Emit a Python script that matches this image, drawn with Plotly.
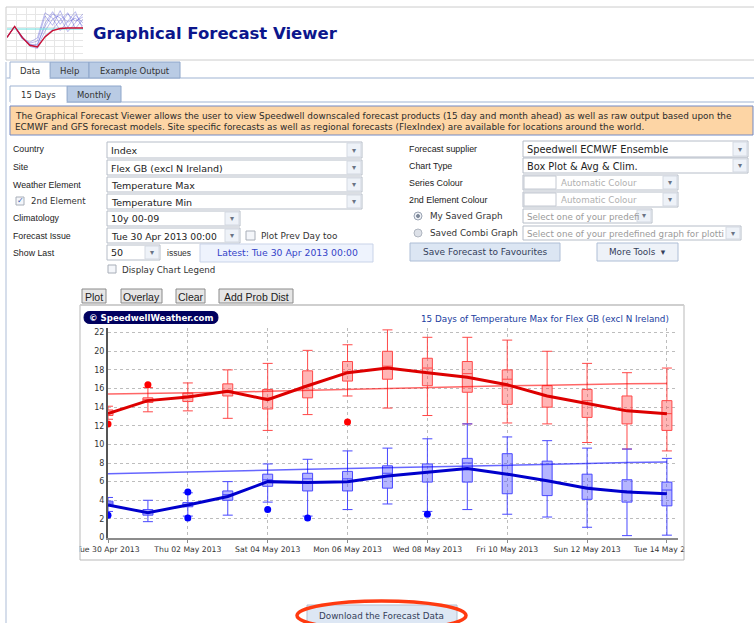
import plotly.graph_objects as go

W, H = 754, 623
SANS = "DejaVu Sans"
ARIAL = "Liberation Sans"

# ---- chart data ----
dates = ["2013-04-30", "2013-05-01", "2013-05-02", "2013-05-03", "2013-05-04",
         "2013-05-05", "2013-05-06", "2013-05-07", "2013-05-08", "2013-05-09",
         "2013-05-10", "2013-05-11", "2013-05-12", "2013-05-13", "2013-05-14"]

tmax_low = [12.7, 13.5, 13.6, 12.8, 11.5, 13.2, 15.2, 13.9, 13.1, 12.2, 12.3, 12.2, 10.2, 9.5, 9.3]
tmax_q1 = [13.1, 14.5, 14.6, 15.2, 13.8, 15.0, 16.8, 17.0, 16.3, 15.6, 14.3, 14.0, 12.9, 12.2, 11.5]
tmax_med = [13.4, 14.8, 15.2, 15.8, 15.0, 16.3, 17.8, 18.4, 18.2, 17.6, 17.0, 15.2, 14.7, 13.6, 13.3]
tmax_q3 = [13.7, 15.0, 15.5, 16.5, 15.9, 17.9, 18.9, 20.0, 19.25, 18.9, 18.0, 16.3, 15.9, 15.2, 14.7]
tmax_high = [14.1, 16.1, 16.6, 18.0, 18.7, 20.1, 20.7, 22.3, 21.5, 21.5, 21.2, 20.0, 18.7, 17.7, 18.2]
tmax_mean = [13.3, 14.7, 15.1, 15.7, 14.8, 16.3, 17.7, 18.2, 17.7, 17.2, 16.4, 15.2, 14.4, 13.6, 13.3]
tmax_clim = [15.4, 15.45, 15.55, 15.6, 15.7, 15.8, 15.95, 16.05, 16.15, 16.2, 16.3, 16.35, 16.45, 16.5, 16.55]

tmin_low = [2.8, 1.7, 2.3, 2.4, 3.8, 2.3, 3.0, 3.6, 2.8, 3.0, 2.5, 2.2, 1.1, 0.2, 0.25]
tmin_q1 = [3.4, 2.4, 3.3, 4.0, 5.5, 5.0, 5.0, 5.3, 5.95, 5.95, 4.7, 4.5, 4.1, 3.8, 3.4]
tmin_med = [3.7, 2.7, 3.5, 4.6, 6.2, 6.3, 6.3, 6.9, 7.0, 8.0, 6.8, 6.1, 5.4, 5.0, 5.1]
tmin_q3 = [3.9, 3.0, 3.75, 5.0, 6.8, 6.9, 7.1, 7.7, 7.9, 8.5, 9.0, 8.2, 6.8, 6.2, 5.95]
tmin_high = [4.3, 4.0, 4.8, 6.0, 7.9, 8.4, 9.3, 9.6, 10.6, 12.2, 10.8, 10.4, 9.6, 9.5, 8.5]
tmin_mean = [3.5, 2.65, 3.5, 4.4, 6.0, 5.9, 6.0, 6.6, 7.0, 7.4, 6.8, 6.1, 5.3, 4.9, 4.7]
tmin_clim = [6.85, 6.95, 7.1, 7.2, 7.28, 7.33, 7.4, 7.48, 7.55, 7.65, 7.75, 7.85, 7.95, 8.05, 8.1]

tmax_out_dates = ["2013-04-30", "2013-05-01", "2013-05-06"]
tmax_out_vals = [12.2, 16.4, 12.4]
tmin_out_dates = ["2013-04-30", "2013-05-02", "2013-05-02", "2013-05-04", "2013-05-05", "2013-05-08"]
tmin_out_vals = [2.4, 4.9, 2.1, 3.0, 2.1, 2.5]

# little spaghetti logo in the header
logo_x = [0, 1, 2, 3, 4, 5, 6, 7, 8, 9, 10]
logo_runs = [
    [4.3, 6.4, 4.4, 3.0, 2.4, 5.5, 7.8, 8.6, 7.2, 8.0, 6.4],
    [4.3, 6.4, 4.2, 2.8, 2.8, 7.0, 9.2, 6.8, 8.8, 7.4, 8.2],
    [4.3, 6.4, 4.0, 3.2, 3.6, 8.4, 6.6, 9.4, 6.2, 8.6, 7.0],
    [4.3, 6.4, 4.5, 2.6, 2.2, 4.6, 5.8, 7.6, 9.0, 6.0, 7.8],
    [4.3, 6.4, 4.1, 3.4, 4.2, 9.0, 8.0, 5.6, 7.4, 9.2, 5.8],
    [4.3, 6.4, 4.3, 2.9, 3.0, 6.4, 8.8, 8.0, 5.4, 7.0, 8.8],
]
logo_mean = [4.3, 6.4, 4.3, 2.8, 2.5, 4.4, 5.6, 6.0, 6.1, 6.1, 6.1]
logo_clim = [5.9, 5.9, 5.9, 5.9, 5.9, 5.9, 5.9, 5.9, 5.9, 5.9, 5.9]

DAY = 86400000

fig = go.Figure()

fig.add_trace(go.Box(
    x=dates, q1=tmax_q1, median=tmax_med, q3=tmax_q3,
    lowerfence=tmax_low, upperfence=tmax_high, orientation="v",
    width=0.25 * DAY, whiskerwidth=1, boxpoints=False,
    fillcolor="rgba(255,70,70,0.4)", line=dict(color="#ff4848", width=1),
    hoverinfo="skip",
))
fig.add_trace(go.Box(
    x=dates, q1=tmin_q1, median=tmin_med, q3=tmin_q3,
    lowerfence=tmin_low, upperfence=tmin_high, orientation="v",
    width=0.25 * DAY, whiskerwidth=1, boxpoints=False,
    fillcolor="rgba(70,70,255,0.4)", line=dict(color="#4848ff", width=1),
    hoverinfo="skip",
))
fig.add_trace(go.Scatter(x=dates, y=tmax_clim, mode="lines",
                         line=dict(color="rgba(255,0,0,0.6)", width=1.5), hoverinfo="skip"))
fig.add_trace(go.Scatter(x=dates, y=tmin_clim, mode="lines",
                         line=dict(color="rgba(0,0,255,0.6)", width=1.5), hoverinfo="skip"))
fig.add_trace(go.Scatter(x=dates, y=tmax_mean, mode="lines",
                         line=dict(color="#dd0000", width=3), hoverinfo="skip"))
fig.add_trace(go.Scatter(x=dates, y=tmin_mean, mode="lines",
                         line=dict(color="#0000cc", width=3), hoverinfo="skip"))
fig.add_trace(go.Scatter(x=tmax_out_dates, y=tmax_out_vals, mode="markers",
                         marker=dict(size=7, color="#ff0000"), hoverinfo="skip"))
fig.add_trace(go.Scatter(x=tmin_out_dates, y=tmin_out_vals, mode="markers",
                         marker=dict(size=7, color="#0000ff"), hoverinfo="skip"))

for run in logo_runs:
    fig.add_trace(go.Scatter(x=logo_x, y=run, mode="lines", xaxis="x2", yaxis="y2",
                             line=dict(color="rgba(70,70,210,0.45)", width=0.8), hoverinfo="skip"))
fig.add_trace(go.Scatter(x=logo_x, y=logo_clim, mode="lines", xaxis="x2", yaxis="y2",
                         line=dict(color="#66dddd", width=1), hoverinfo="skip"))
fig.add_trace(go.Scatter(x=logo_x, y=logo_mean, mode="lines", xaxis="x2", yaxis="y2",
                         line=dict(color="#cc1133", width=1.4), hoverinfo="skip"))

# ---- page furniture (pixel coords -> paper) ----
shapes = []
notes = []


def px(x):
    return x / W


def py(y):
    return 1 - y / H


def rect(x0, y0, x1, y1, fill="rgba(0,0,0,0)", line="#aaaaaa", width=1, kind="rect"):
    shapes.append(dict(type=kind, xref="paper", yref="paper",
                       x0=px(x0), x1=px(x1), y0=py(y1), y1=py(y0),
                       fillcolor=fill, line=dict(color=line, width=width), layer="above"))


def seg(x0, y0, x1, y1, color, width=1):
    shapes.append(dict(type="line", xref="paper", yref="paper",
                       x0=px(x0), x1=px(x1), y0=py(y0), y1=py(y1),
                       line=dict(color=color, width=width), layer="above"))


def pill(x0, y0, x1, y1, fill):
    r = (y1 - y0) / 2
    p = lambda x, y: f"{px(x):.5f},{py(y):.5f}"
    path = (f"M{p(x0 + r, y0)} L{p(x1 - r, y0)} Q{p(x1, y0)} {p(x1, y0 + r)} "
            f"Q{p(x1, y1)} {p(x1 - r, y1)} L{p(x0 + r, y1)} Q{p(x0, y1)} {p(x0, y0 + r)} "
            f"Q{p(x0, y0)} {p(x0 + r, y0)} Z")
    shapes.append(dict(type="path", xref="paper", yref="paper", path=path,
                       fillcolor=fill, line=dict(color=fill, width=1), layer="above"))


def label(x, y, s, size=8.5, color="#222222", family=SANS, anchor="left"):
    notes.append(dict(x=px(x), y=py(y), xref="paper", yref="paper", text=s,
                      showarrow=False, xanchor=anchor, yanchor="middle", borderpad=0,
                      font=dict(size=size, color=color, family=family)))


def dropdown(x0, y0, x1, y1, s, color="#222222", size=9.5, swatch=False):
    rect(x0, y0, x1, y1, fill="white", line="#b6bdc8")
    rect(x1 - 15, y0 + 1, x1 - 1, y1 - 1, fill="#eef2f8", line="#d4d9e2")
    label(x1 - 8, (y0 + y1) / 2, "▾", size=8, color="#6a7384", anchor="center")
    tx = x0 + 3
    if swatch:
        rect(x0 + 1, y0 + 1, x0 + 33, y1 - 1, fill="white", line="#c4c9d2")
        tx = x0 + 37
    label(tx, (y0 + y1) / 2 + 0.5, s, size=size, color=color)


def checkbox(x0, y0, x1, y1, checked=False):
    rect(x0, y0, x1, y1, fill="#f4f6fa", line="#a8aeb8")
    if checked:
        label((x0 + x1) / 2, (y0 + y1) / 2, "✓", size=8, color="#3c5fb0", anchor="center")


def button(x0, y0, x1, y1, s, fill="#e6e6e6", line="#8a8a8a", size=10.5,
           color="#222222", family=ARIAL):
    rect(x0, y0, x1, y1, fill=fill, line=line)
    label((x0 + x1) / 2, (y0 + y1) / 2 + 0.5, s, size=size, color=color,
          family=family, anchor="center")


# header
rect(6, 7, 760, 60, line="#cccccc")
label(92, 33, "<b>Graphical Forecast Viewer</b>", size=16.5, color="#0c168c")

# first tab row
seg(6, 78, 754, 78, "#9fb3d2")
seg(6, 62, 6, 623, "#c8d3e4", 1.5)
rect(50, 62, 89, 78, fill="#b9cbe4", line="#8ea6ca")
rect(89, 62, 180, 78, fill="#b9cbe4", line="#8ea6ca")
rect(10, 62, 50, 78, fill="white", line="#9fb3d2")
seg(10.5, 78, 49.5, 78, "white", 2)
label(30, 70.5, "Data", size=8.5, color="#333333", anchor="center")
label(69.5, 70.5, "Help", size=8.5, color="#333333", anchor="center")
label(134.5, 70.5, "Example Output", size=8.5, color="#333333", anchor="center")

# second tab row
seg(10, 102, 754, 102, "#9fb3d2")
rect(67, 86, 121, 102, fill="#b9cbe4", line="#8ea6ca")
rect(10, 86, 67, 102, fill="white", line="#9fb3d2")
seg(10.5, 102, 66.5, 102, "white", 2)
label(38.5, 94.5, "15 Days", size=8.5, color="#333333", anchor="center")
label(94, 94.5, "Monthly", size=8.5, color="#333333", anchor="center")

# info box
rect(10, 106, 753, 135, fill="#fdd5a5", line="#7389c4")
label(14, 116, "The Graphical Forecast Viewer allows the user to view Speedwell downscaled "
      "forecast products (15 day and month ahead) as well as raw output based upon the",
      size=8.9, color="#2a2a2a")
label(14, 127, "ECMWF and GFS forecast models. Site specific forecasts as well as regional "
      "forecasts (FlexIndex) are available for locations around the world.",
      size=8.9, color="#2a2a2a")

# left form column
label(12, 149.5, "Country", size=8.8, family=ARIAL)
label(12, 167, "Site", size=8.8, family=ARIAL)
label(12, 184.5, "Weather Element", size=8.8, family=ARIAL)
checkbox(16, 197, 24, 205, checked=True)
label(30, 201, "2nd Element", size=8.6, color="#333333")
label(12, 218, "Climatology", size=8.8, family=ARIAL)
label(12, 235.5, "Forecast Issue", size=8.8, family=ARIAL)
label(12, 253, "Show Last", size=8.8, family=ARIAL)

dropdown(107, 142, 362, 158, "Index")
dropdown(107, 160, 362, 175, "Flex GB (excl N Ireland)")
dropdown(107, 177, 362, 192, "Temperature Max")
dropdown(107, 194, 362, 209, "Temperature Min")
dropdown(107, 211, 240, 226, "10y 00-09")
dropdown(107, 228, 240, 243, "Tue 30 Apr 2013 00:00", size=9.2)
checkbox(246, 231, 255, 240)
label(260, 235.5, "Plot Prev Day too", size=8.9, color="#333333")
dropdown(107, 245, 160, 260, "50")
label(166, 253, "issues", size=8.5, family=ARIAL, color="#333333")
rect(200, 244, 373, 262, fill="#eef3fd", line="#c9d3e8")
label(287, 253, "Latest: Tue 30 Apr 2013 00:00", size=9.3, color="#3443c8", anchor="center")
checkbox(108, 265, 116, 273)
label(121, 270, "Display Chart Legend", size=8.7, color="#333333")

# right form column
label(408, 149.5, "Forecast supplier", size=8.9, family=ARIAL)
label(408, 166, "Chart Type", size=8.9, family=ARIAL)
label(408, 182.5, "Series Colour", size=8.9, family=ARIAL)
label(408, 199.5, "2nd Element Colour", size=8.9, family=ARIAL)
dropdown(523, 141, 748, 157, "Speedwell ECMWF Ensemble", size=9.8)
dropdown(523, 158, 748, 173, "Box Plot &amp; Avg &amp; Clim.", size=9.8)
dropdown(523, 175, 678, 190, "Automatic Colour", color="#b0b0b0", size=8.7, swatch=True)
dropdown(523, 192, 678, 207, "Automatic Colour", color="#b0b0b0", size=8.7, swatch=True)
rect(414, 212, 422, 220, fill="#eef1f6", line="#9aa3b2", kind="circle")
rect(416.5, 214.5, 419.5, 217.5, fill="#7d8899", line="#7d8899", kind="circle")
label(429, 216, "My Saved Graph", size=8.8, color="#333333")
dropdown(523, 209, 652, 223, "Select one of your predefi", color="#9a9a9a", size=8.7)
rect(414, 229, 422, 237, fill="#dde1e8", line="#b0b6c0", kind="circle")
label(429, 233, "Saved Combi Graph", size=8.8, color="#333333")
dropdown(523, 226, 741, 240, "Select one of your predefined graph for plotti",
         color="#9a9a9a", size=8.7)
button(410, 243, 560, 261, "Save Forecast to Favourites", fill="#dce6f3", line="#aebed6",
       size=9, color="#34405a", family=SANS)
button(597, 243, 678, 261, "More Tools  ▾", fill="#eef2f8", line="#aebed6",
       size=8.8, color="#34405a", family=SANS)

# chart buttons
button(82, 289, 106, 303, "Plot")
button(121, 289, 162, 303, "Overlay")
button(176, 289, 205, 303, "Clear")
button(219, 289, 293, 303, "Add Prob Dist")

# chart frame, clip the overhanging tick labels
rect(50, 539, 79.5, 559, fill="white", line="white", width=0)
rect(684.5, 539, 740, 559, fill="white", line="white", width=0)
rect(80, 305, 684, 560, line="#b9b9b9")
seg(80, 305, 684, 305, "#cfcfcf", 2)
pill(84, 311.5, 218, 323.5, "#00005e")
label(151, 317.7, "<b>© SpeedwellWeather.com</b>", size=8.6, color="white", anchor="center")
label(670, 319, "15 Days of Temperature Max for Flex GB (excl N Ireland)", size=8.8,
      color="#2140a0", anchor="right")

# download button with the red highlight ring
button(307, 605, 457, 626, "Download the Forecast Data", fill="#dde7f4", line="#b3bfd0",
       size=8.8, color="#34405a", family=SANS)
rect(297, 601, 466, 630, line="#ff3a10", width=3.5, kind="circle")

fig.update_layout(
    width=W, height=H,
    margin=dict(l=0, r=0, t=0, b=0, pad=0, autoexpand=False),
    paper_bgcolor="white",
    plot_bgcolor="white",
    showlegend=False,
    boxmode="overlay",
    shapes=shapes,
    annotations=notes,
    xaxis=dict(
        type="date",
        domain=[px(108), px(678)],
        range=["2013-04-30 00:00", "2013-05-14 06:40"],
        tick0="2013-04-30", dtick=2 * DAY,
        tickformat="%a %d %b %Y",
        tickfont=dict(size=7.7, color="#333333", family=SANS),
        showgrid=True, gridcolor="#bdbdbd", griddash="dot", gridwidth=1,
        showline=True, linecolor="#8c8c8c", linewidth=2,
        ticks="outside", ticklen=3, tickcolor="#8c8c8c",
        zeroline=False, fixedrange=True, automargin=False,
    ),
    yaxis=dict(
        domain=[py(537.5), py(328)],
        range=[0, 22.5],
        tick0=0, dtick=2,
        tickfont=dict(size=8, color="#333333", family=SANS),
        showgrid=True, gridcolor="#bdbdbd", griddash="dot", gridwidth=1,
        showline=True, linecolor="#555555", linewidth=2,
        zeroline=False, fixedrange=True, automargin=False,
    ),
    xaxis2=dict(domain=[px(7), px(83)], range=[0, 10], anchor="y2",
                showgrid=True, gridcolor="#e6e6e6", dtick=1.25, automargin=False,
                showticklabels=False, zeroline=False, showline=False, fixedrange=True),
    yaxis2=dict(domain=[py(60), py(7.5)], range=[0, 10], anchor="x2",
                showgrid=True, gridcolor="#e6e6e6", dtick=1.25, automargin=False,
                showticklabels=False, zeroline=False, showline=False, fixedrange=True),
)

fig.write_html("out.html", config=dict(displayModeBar=False),
               post_script="document.body.style.margin='0px';")
